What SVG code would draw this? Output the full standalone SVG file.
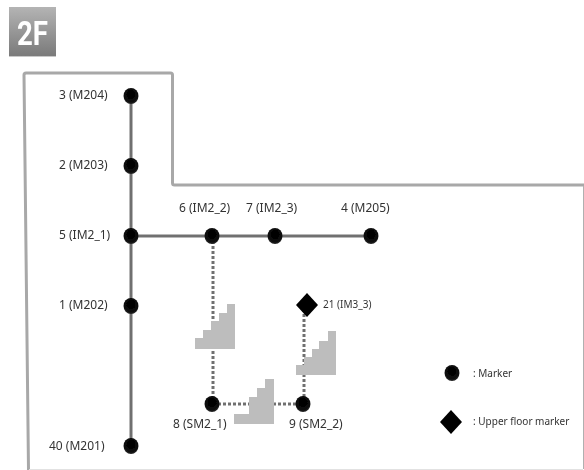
<svg xmlns="http://www.w3.org/2000/svg" width="584" height="470" viewBox="0 0 584 470">
<defs>
<linearGradient id="badge" x1="0" y1="0" x2="0" y2="1"><stop offset="0" stop-color="#b4b4b4"/><stop offset="1" stop-color="#7a7a7a"/></linearGradient>
<radialGradient id="ball" cx="0.5" cy="0.4" r="0.6"><stop offset="0" stop-color="#000"/><stop offset="0.75" stop-color="#0a0a0a"/><stop offset="1" stop-color="#2a2a2a"/></radialGradient>
<filter id="soft" x="0" y="0" width="100%" height="100%"><feGaussianBlur stdDeviation="0.45"/></filter>
</defs>
<style>
text{font-family:"Noto Sans","Liberation Sans",sans-serif;font-size:12px;fill:#333}
.ball{fill:url(#ball)}
.solid{stroke:#707070;stroke-width:3;fill:none}
.dot{stroke:#707070;stroke-width:3;stroke-dasharray:3 2;fill:none}
.stair{fill:#bdbdbd}
.small{font-size:10px}
</style>
<rect width="584" height="470" fill="#fff"/>
<g filter="url(#soft)">
<g id="floor-badge">
<rect x="9" y="8" width="47" height="49" fill="#c8c8c8"/>
<rect x="9" y="7" width="47" height="49" fill="url(#badge)"/>
<text x="17" y="45" textLength="31" lengthAdjust="spacingAndGlyphs" style="font-size:33px;font-weight:700;fill:#fff;font-family:Roboto,'Liberation Sans',sans-serif">2F</text>
</g>
<g id="floor-outline" fill="none">
<path d="M28.500 470L24 75Q24 73 26 73H170.500Q172.500 73 172.500 75V183Q172.500 185 174.500 185H584" stroke="#a8a8a8" stroke-width="3"/>
<path d="M583.500 186V469" stroke="#b0b0b0" stroke-width="1"/>
<path d="M29 469.500H583" stroke="#e2e2e2" stroke-width="1"/>
</g>
<g id="connectors">
<path class="solid" d="M131 96V446M131 236H371"/>
<path class="dot" d="M213 236V402M213 404H304M304 402V306"/>
</g>
<g id="stairs">
<path class="stair" d="M195 349V338H203V330H211V321H219V313H227V304H235V349Z"/>
<path class="stair" d="M296 375V365H304V357H312V349H319V341H328V331H336V375Z"/>
<path class="stair" d="M234 424V414H249V397H257V388H265V379H274V424Z"/>
</g>
<g id="n3"><ellipse class="ball" cx="131" cy="96" rx="7.500" ry="8"/><text x="59" y="99">3 (M204)</text></g>
<g id="n2"><ellipse class="ball" cx="131" cy="166" rx="7.500" ry="8"/><text x="59" y="169">2 (M203)</text></g>
<g id="n5"><ellipse class="ball" cx="131" cy="236" rx="7.500" ry="8"/><text x="59" y="239">5 (IM2_1)</text></g>
<g id="n1"><ellipse class="ball" cx="131" cy="306" rx="7.500" ry="8"/><text x="59" y="309">1 (M202)</text></g>
<g id="n40"><ellipse class="ball" cx="131" cy="446" rx="7.500" ry="8"/><text x="49" y="450">40 (M201)</text></g>
<g id="n6"><ellipse class="ball" cx="212" cy="236" rx="7.500" ry="8"/><text x="179" y="212">6 (IM2_2)</text></g>
<g id="n7"><ellipse class="ball" cx="275" cy="236" rx="7.500" ry="8"/><text x="246" y="212">7 (IM2_3)</text></g>
<g id="n4"><ellipse class="ball" cx="371" cy="236" rx="7.500" ry="8"/><text x="341" y="212">4 (M205)</text></g>
<g id="n21"><path d="M307 293L318 305L307 317L296 305Z" fill="#000"/><text x="323" y="308" class="small">21 (IM3_3)</text></g>
<g id="n8"><ellipse class="ball" cx="212" cy="404" rx="7.500" ry="8"/><text x="173" y="428">8 (SM2_1)</text></g>
<g id="n9"><ellipse class="ball" cx="303" cy="404" rx="7.500" ry="8"/><text x="289" y="428">9 (SM2_2)</text></g>
<g id="legend-marker"><ellipse class="ball" cx="452" cy="373" rx="7.500" ry="8"/><text x="473" y="377" class="small">: Marker</text></g>
<g id="legend-upper"><path d="M451 410L462 422L451 434L440 422Z" fill="#000"/><text x="473" y="425" class="small">: Upper floor marker</text></g>
</g>
</svg>
